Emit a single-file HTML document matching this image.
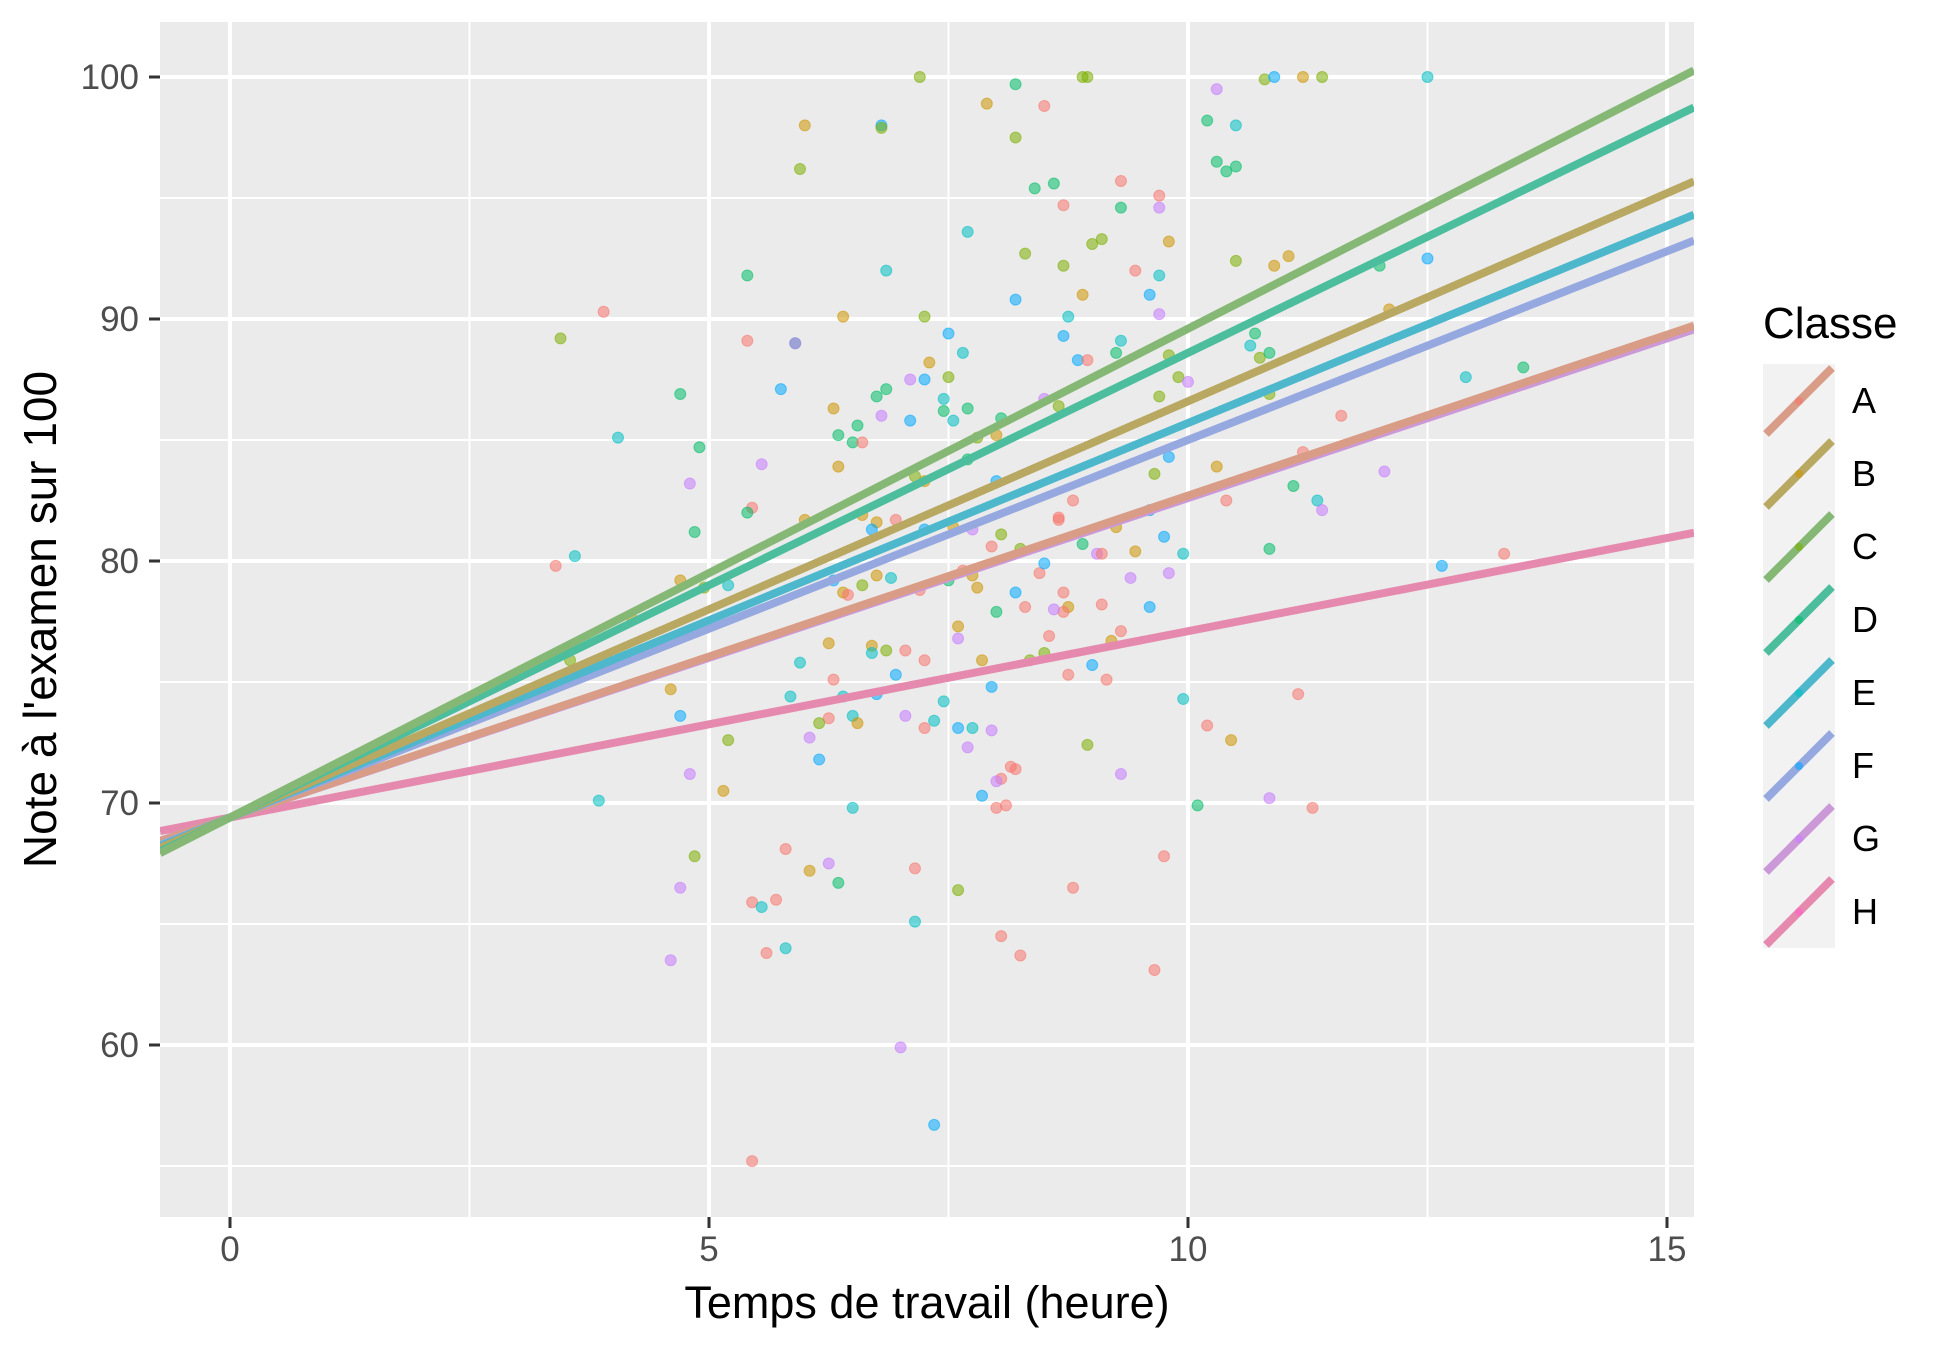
<!DOCTYPE html>
<html><head><meta charset="utf-8"><style>
html,body{margin:0;padding:0;background:#fff;}
svg{display:block;font-family:"Liberation Sans",Arial,sans-serif;}
</style></head><body>
<svg id="chart" width="1950" height="1350" viewBox="0 0 1950 1350"></svg>
<script>
const classes = ["A","B","C","D","E","F","G","H"];
const pointColors = ["#F8766D","#CD9600","#7CAE00","#00BE67","#00BFC4","#00A9FF","#C77CFF","#FF61CC"];
const lineColors = ["#D99C86","#B9A862","#86B875","#4CBE9E","#4DB8CB","#96A8E0","#CC99D8","#E58AAE"];
const intercepts = [69.4,69.4,69.4,69.4,69.4,69.4,69.4,69.4];
const slopes = [1.33,1.72,2.02,1.92,1.63,1.56,1.32,0.77];
const xTicks = [0,5,10,15];
const yTicks = [60,70,80,90,100];
const pts = "7.2,100,C;8.95,100,C;8.9,100,C;10.8,99.9,C;11.2,100,B;11.4,100,C;10.9,100,F;12.5,100,E;8.2,99.7,D;10.3,99.5,G;6,98,B;6.8,98,F;6.8,97.9,C;7.9,98.9,B;8.5,98.8,A;8.2,97.5,C;10.2,98.2,D;10.5,98,E;10.3,96.5,D;10.5,96.3,D;10.4,96.1,D;5.95,96.2,C;8.4,95.4,D;8.6,95.6,D;9.3,95.7,A;9.7,95.1,A;8.7,94.7,A;9.3,94.6,D;9.7,94.6,G;7.7,93.6,E;9.1,93.3,C;9.0,93.1,C;9.8,93.2,B;8.3,92.7,C;8.7,92.2,C;10.5,92.4,C;11.05,92.6,B;10.9,92.2,B;12.0,92.2,D;12.5,92.5,F;9.45,92,A;9.7,91.8,E;6.85,92,E;5.4,91.8,D;9.6,91,F;8.9,91,B;8.2,90.8,F;8.75,90.1,E;6.4,90.1,B;7.25,90.1,C;9.7,90.2,G;3.9,90.3,A;12.1,90.4,B;3.45,89.2,C;5.4,89.1,A;5.9,89.0,D;5.9,89.0,G;7.5,89.4,F;8.7,89.3,F;9.3,89.1,E;10.7,89.4,D;10.65,88.9,E;9.25,88.6,D;9.8,88.5,C;7.65,88.6,E;8.85,88.3,F;8.95,88.3,A;10.75,88.4,C;10.85,88.6,D;7.3,88.2,B;7.5,87.6,C;7.25,87.5,F;7.1,87.5,G;6.85,87.1,D;5.75,87.1,F;4.7,86.9,D;7.45,86.7,E;7.45,86.2,D;6.75,86.8,D;8.5,86.7,G;8.65,86.4,C;9.7,86.8,C;9.9,87.6,C;10.0,87.4,G;10.85,86.9,C;12.9,87.6,E;13.5,88,D;11.6,86,A;6.3,86.3,B;6.8,86,G;4.05,85.1,E;4.9,84.7,D;6.35,85.2,D;6.55,85.6,D;6.5,84.9,D;6.6,84.9,A;7.1,85.8,F;7.55,85.8,E;8.05,85.9,D;8.0,85.2,B;7.7,86.3,D;7.8,85.1,C;5.55,84,G;6.35,83.9,B;4.8,83.2,G;7.15,83.5,C;7.25,83.3,B;7.7,84.2,D;8.0,83.3,F;9.65,83.6,C;10.4,82.5,A;11.2,84.5,A;11.1,83.1,D;12.05,83.7,G;10.3,83.9,B;9.8,84.3,F;5.45,82.2,A;5.4,82.0,D;6.0,81.7,B;4.85,81.2,D;6.6,81.9,B;6.75,81.6,B;6.7,81.3,F;6.95,81.7,A;7.25,81.3,F;7.55,81.4,B;7.75,81.3,G;8.05,81.1,C;7.95,80.6,A;8.25,80.5,C;8.65,81.8,A;8.65,81.7,A;8.8,82.5,A;8.9,80.7,D;9.05,80.3,G;9.1,80.3,A;9.25,81.4,B;9.45,80.4,B;9.6,82.1,F;9.75,81.0,F;9.95,80.3,E;10.85,80.5,D;11.35,82.5,E;11.4,82.1,G;3.4,79.8,A;3.6,80.2,E;4.2,77.6,B;3.5,76.3,D;3.55,75.9,C;4.7,79.2,B;5.2,79.0,E;4.95,78.9,C;6.3,79.2,F;6.4,78.7,B;6.45,78.6,A;6.6,79.0,C;6.75,79.4,B;6.9,79.3,E;7.2,78.8,A;7.5,79.2,D;7.65,79.6,A;7.75,79.4,B;7.8,78.9,B;8.2,78.7,F;8.3,78.1,A;8.0,77.9,D;8.45,79.5,A;8.5,79.9,F;8.7,78.7,A;8.75,78.1,B;8.7,77.9,A;8.6,78.0,G;9.1,78.2,A;9.4,79.3,G;9.6,78.1,F;9.8,79.5,G;12.65,79.8,F;13.3,80.3,A;6.25,76.6,B;6.7,76.5,B;6.7,76.2,E;6.85,76.3,C;7.05,76.3,A;7.25,75.9,A;7.6,77.3,B;7.6,76.8,G;7.85,75.9,B;7.95,74.8,F;8.5,76.2,C;8.35,75.9,C;8.55,76.9,A;8.75,75.3,A;9.0,75.7,F;9.15,75.1,A;9.3,77.1,A;9.2,76.7,B;5.95,75.8,E;5.85,74.4,E;6.4,74.4,E;6.3,75.1,A;6.5,73.6,E;6.75,74.5,F;6.95,75.3,F;7.45,74.2,E;7.35,73.4,E;7.25,73.1,A;7.6,73.1,F;7.75,73.1,E;7.95,73.0,G;7.05,73.6,G;4.6,74.7,B;4.7,73.6,F;6.25,73.5,A;6.15,73.3,C;6.05,72.7,G;6.55,73.3,B;7.7,72.3,G;8.2,71.4,A;8.15,71.5,A;8.05,71.0,A;8.0,70.9,G;7.85,70.3,F;8.0,69.8,A;8.1,69.9,A;8.95,72.4,C;9.3,71.2,G;10.2,73.2,A;10.45,72.6,B;11.15,74.5,A;9.95,74.3,E;10.1,69.9,D;10.85,70.2,G;11.3,69.8,A;5.2,72.6,C;4.8,71.2,G;5.15,70.5,B;3.85,70.1,E;4.85,67.8,C;6.15,71.8,F;6.5,69.8,E;5.8,68.1,A;6.25,67.5,G;6.05,67.2,B;4.7,66.5,G;5.45,65.9,A;5.55,65.7,E;5.7,66.0,A;6.35,66.7,D;7.15,67.3,A;7.6,66.4,C;8.8,66.5,A;9.75,67.8,A;4.6,63.5,G;5.6,63.8,A;5.8,64.0,E;7.15,65.1,E;8.05,64.5,A;8.25,63.7,A;9.65,63.1,A;7.0,59.9,G;7.35,56.7,F;5.45,55.2,A".split(";");
const pointsX = pts.map(s=>+s.split(",")[0]);
const pointsY = pts.map(s=>+s.split(",")[1]);
const pointsClass = pts.map(s=>s.split(",")[2]);

const NS="http://www.w3.org/2000/svg";
const svg=document.getElementById('chart');
const L=160,T=22,R=1694,B=1217;
const XU=95.8;
const xs=v=>230+v*XU;
const ys=v=>77+(100-v)*24.2;
const xmin=(L-230)/XU, xmax=(R-230)/XU;
function mk(tag,attrs,parent){const e=document.createElementNS(NS,tag);for(const k in attrs)e.setAttribute(k,attrs[k]);(parent||svg).appendChild(e);return e;}

const panel=mk('rect',{x:L,y:T,width:R-L,height:B-T,fill:'#EBEBEB'});


const grid=mk('g',{});


for(let v=55;v<=100;v+=5){const y=ys(v);if(y<T||y>B)continue;mk('line',{x1:L,x2:R,y1:y,y2:y,stroke:'#fff','stroke-width':v%10===0?4:2},grid);}
for(let v=0;v<=15;v+=2.5){const x=xs(v);if(x<L||x>R)continue;mk('line',{y1:T,y2:B,x1:x,x2:x,stroke:'#fff','stroke-width':v%5===0?4:2},grid);}

const clip=mk('clipPath',{id:'pc'});mk('rect',{x:L,y:T,width:R-L,height:B-T},clip);
const pg=mk('g',{'clip-path':'url(#pc)'});


for(let i=0;i<pointsX.length;i++){
  const ci=classes.indexOf(pointsClass[i]);
  const c=mk('circle',{cx:xs(pointsX[i]),cy:ys(pointsY[i]),r:5.5,fill:pointColors[ci],'fill-opacity':0.55,stroke:pointColors[ci],'stroke-opacity':0.55,'stroke-width':1},pg);
  
  
}
const lg=mk('g',{'clip-path':'url(#pc)'});


const order=[7,6,0,5,4,1,3,2];
order.forEach(i=>{
  const l=mk('line',{x1:xs(xmin),y1:ys(intercepts[i]+slopes[i]*xmin),x2:xs(xmax),y2:ys(intercepts[i]+slopes[i]*xmax),stroke:lineColors[i],'stroke-width':8},lg);
  
  
});

yTicks.forEach(v=>{const y=ys(v);
  mk('line',{x1:149,x2:L,y1:y,y2:y,stroke:'#333','stroke-width':3});
  const t=mk('text',{x:139,y:y+12,'text-anchor':'end','font-size':35,fill:'#4D4D4D'});t.textContent=v;
  
  
});
xTicks.forEach(v=>{const x=xs(v);
  mk('line',{x1:x,x2:x,y1:B,y2:B+11,stroke:'#333','stroke-width':3});
  const t=mk('text',{x:x,y:1261,'text-anchor':'middle','font-size':35,fill:'#4D4D4D'});t.textContent=v;
  
  
});
const xt=mk('text',{x:(L+R)/2,y:1318,'text-anchor':'middle','font-size':45,fill:'#000'});xt.textContent='Temps de travail (heure)';


const yt=mk('text',{x:0,y:0,transform:`translate(56,${(T+B)/2}) rotate(-90)`,'text-anchor':'middle','font-size':46,fill:'#000'});yt.textContent="Note à l'examen sur 100";



const leg=mk('g',{});


const lt=mk('text',{x:1763,y:338,'font-size':44,fill:'#000'},leg);lt.textContent='Classe';


classes.forEach((c,i)=>{
  const y0=364+i*73;
  const g=mk('g',{},leg);
  
  
  mk('rect',{x:1763,y:y0,width:72,height:73,fill:'#F2F2F2'},g);
  mk('line',{x1:1766,y1:y0+70,x2:1832,y2:y0+4,stroke:lineColors[i],'stroke-width':8},g);
  mk('circle',{cx:1799,cy:y0+37,r:4,fill:pointColors[i],'fill-opacity':0.6},g);
  const t=mk('text',{x:1852,y:y0+49,'font-size':36,fill:'#000'},g);t.textContent=c;
});
</script>
</body></html>
